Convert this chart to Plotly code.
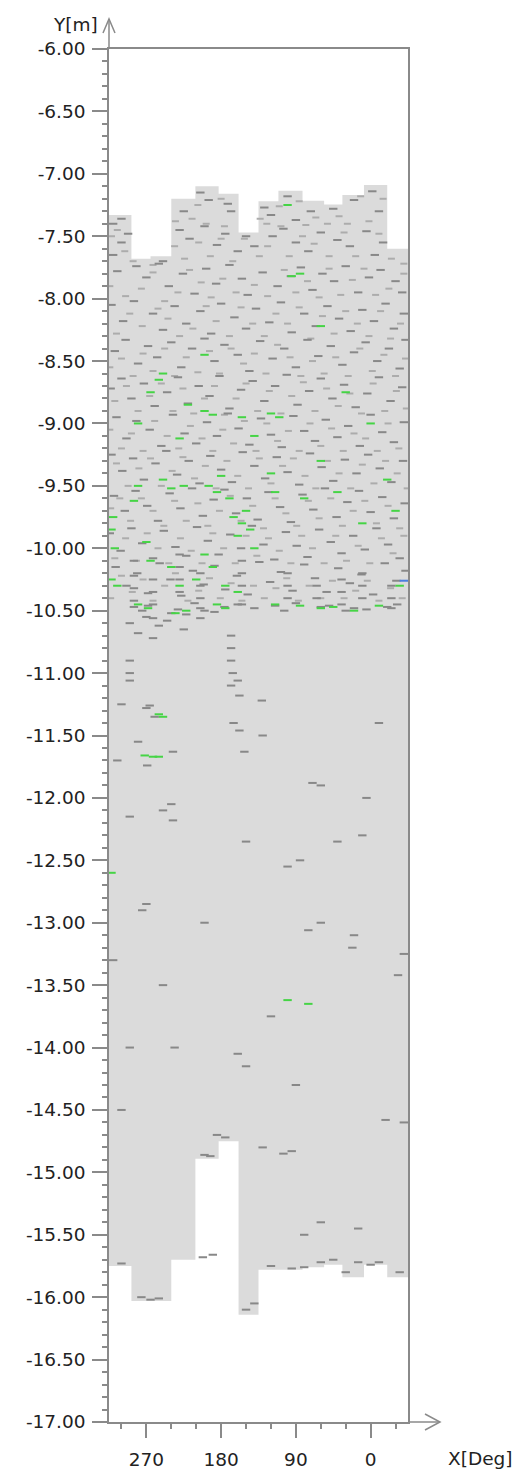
import plotly.graph_objects as go

# ---------------- data ----------------
# column edges in degrees (left -> right on the reversed axis)
col_edges = [315, 288, 265, 240, 211, 183, 159, 135, 111, 82, 56, 34, 8, -20, -45]
col_top = [-7.33, -7.68, -7.66, -7.20, -7.10, -7.16, -7.47, -7.22, -7.135, -7.215, -7.245, -7.17, -7.09, -7.60]
col_bottom = [-15.75, -16.03, -16.03, -15.70, -14.89, -14.75, -16.14, -15.78, -15.78, -15.76, -15.74, -15.84, -15.74, -15.84]

# dark grey defect marks (deg, depth) in the dense zone
dense_gray = [
    (205,-7.15),(195,-7.21),(172,-7.24),(168,-7.30),(128,-7.27),(120,-7.33),(100,-7.18),(72,-7.30),(45,-7.28),
    (20,-7.21),(-2,-7.14),(-10,-7.30),(310,-7.40),(300,-7.36),(225,-7.30),(150,-7.50),(90,-7.37),
    (300,-7.55),(292,-7.48),(230,-7.45),(218,-7.52),(200,-7.42),(185,-7.57),(175,-7.48),(160,-7.62),(140,-7.58),
    (118,-7.50),(105,-7.44),(90,-7.55),(75,-7.62),(60,-7.47),(40,-7.53),(25,-7.58),(5,-7.46),(-15,-7.55),
    (-5,-7.65),(310,-7.65),(250,-7.70),
    (305,-7.78),(282,-7.74),(270,-7.83),(255,-7.72),(243,-7.90),(226,-7.80),(212,-7.96),(198,-7.76),(186,-7.88),
    (170,-7.73),(155,-7.84),(148,-7.97),(130,-7.79),(112,-7.90),(96,-7.82),(84,-7.75),(70,-7.93),(58,-7.80),
    (44,-7.86),(30,-7.74),(15,-7.95),(2,-7.83),(-12,-7.77),(-30,-7.86),(-38,-7.95),
    (312,-8.05),(298,-8.18),(285,-8.02),(262,-8.12),(250,-8.25),(236,-8.06),(222,-8.20),(205,-8.10),(192,-8.28),
    (180,-8.04),(164,-8.15),(150,-8.24),(138,-8.08),(122,-8.19),(108,-8.03),(95,-8.27),(80,-8.12),(66,-8.22),
    (52,-8.06),(38,-8.16),(24,-8.26),(10,-8.09),(-4,-8.18),(-18,-8.04),(-28,-8.24),(-40,-8.12),
    (308,-8.42),(295,-8.33),(280,-8.52),(268,-8.38),(257,-8.47),(240,-8.35),(228,-8.55),(215,-8.40),(200,-8.32),
    (188,-8.50),(176,-8.37),(160,-8.45),(146,-8.58),(133,-8.34),(118,-8.48),(104,-8.40),(90,-8.55),(76,-8.33),
    (63,-8.46),(48,-8.38),(34,-8.53),(20,-8.43),(6,-8.35),(-8,-8.50),(-22,-8.40),(-35,-8.56),(-42,-8.33),
    (313,-8.72),(300,-8.64),(288,-8.80),(273,-8.68),(260,-8.86),(245,-8.75),(232,-8.63),(220,-8.84),(207,-8.70),
    (194,-8.78),(182,-8.62),(170,-8.88),(156,-8.73),(142,-8.66),(128,-8.82),(115,-8.70),(101,-8.61),(88,-8.85),
    (74,-8.74),(60,-8.64),(46,-8.80),(32,-8.69),(18,-8.87),(4,-8.76),(-10,-8.63),(-24,-8.82),(-38,-8.71),
    (306,-8.95),(294,-9.12),(282,-8.98),(266,-9.05),(252,-9.18),(238,-8.93),(224,-9.08),(210,-9.16),(197,-8.99),
    (185,-9.10),(172,-8.92),(159,-9.04),(146,-9.17),(132,-8.96),(120,-9.09),(107,-9.19),(93,-8.94),(80,-9.06),
    (67,-9.14),(54,-8.97),(40,-9.11),(27,-9.02),(13,-9.18),(0,-8.93),(-14,-9.07),(-28,-9.15),(-40,-8.99),
    (312,-9.25),(299,-9.38),(286,-9.28),(273,-9.45),(259,-9.32),(246,-9.22),(233,-9.41),(219,-9.30),(206,-9.48),
    (193,-9.26),(180,-9.37),(167,-9.47),(154,-9.23),(140,-9.34),(127,-9.44),(113,-9.27),(100,-9.39),(86,-9.49),
    (73,-9.24),(59,-9.35),(45,-9.46),(31,-9.29),(17,-9.40),(3,-9.25),(-11,-9.36),(-25,-9.47),(-39,-9.30),
    (309,-9.58),(296,-9.70),(283,-9.54),(269,-9.66),(256,-9.78),(242,-9.56),(229,-9.68),(215,-9.52),(202,-9.74),
    (189,-9.61),(176,-9.53),(162,-9.72),(149,-9.60),(136,-9.77),(123,-9.55),(109,-9.67),(96,-9.79),(82,-9.57),
    (69,-9.69),(55,-9.52),(41,-9.75),(28,-9.63),(14,-9.54),(0,-9.71),(-14,-9.59),(-28,-9.76),(-41,-9.64),
    (314,-9.88),(301,-10.02),(288,-9.84),(275,-9.96),(262,-10.08),(249,-9.86),(235,-9.99),(222,-10.06),(209,-9.83),
    (196,-9.94),(183,-10.05),(169,-9.89),(156,-10.00),(143,-9.82),(129,-9.97),(116,-10.09),(102,-9.87),(89,-9.98),
    (76,-10.07),(62,-9.85),(48,-9.95),(35,-10.04),(21,-9.90),(7,-10.01),(-7,-9.84),(-21,-9.97),(-35,-10.08),
    (307,-10.15),(294,-10.30),(281,-10.20),(268,-10.36),(254,-10.12),(241,-10.25),(228,-10.38),(214,-10.18),(201,-10.29),
    (188,-10.14),(175,-10.33),(161,-10.22),(148,-10.37),(134,-10.11),(121,-10.27),(108,-10.19),(94,-10.34),(80,-10.13),
    (67,-10.24),(53,-10.35),(39,-10.16),(25,-10.28),(11,-10.21),(-3,-10.37),(-17,-10.12),(-31,-10.26),(-42,-10.18),
    (285,-10.47),(275,-10.50),(268,-10.46),(240,-10.52),(232,-10.49),(222,-10.53),(212,-10.44),(200,-10.50),(188,-10.51),
    (176,-10.47),(160,-10.45),(140,-10.48),(115,-10.46),(104,-10.50),(90,-10.44),(60,-10.47),(50,-10.46),(30,-10.50),
    (20,-10.48),(5,-10.49),(-20,-10.47),(-32,-10.45),
    (290,-10.60),(280,-10.68),(270,-10.55),(255,-10.62),(262,-10.72),(245,-10.58),(225,-10.65),(205,-10.56),
    # vertical streaks in the lower dense zone
    (285,-10.10),(285,-10.22),(285,-10.32),(285,-10.42),(262,-10.25),(262,-10.35),(262,-10.45),(262,-10.56),
    (230,-10.05),(230,-10.15),(230,-10.25),(230,-10.35),(205,-10.20),(205,-10.30),(205,-10.40),(205,-10.48),
    (155,-10.10),(155,-10.20),(155,-10.30),(155,-10.45),(100,-10.20),(100,-10.30),(100,-10.40),(65,-10.30),
    (65,-10.40),(35,-10.25),(35,-10.35),(35,-10.45),(10,-10.20),(10,-10.30),(10,-10.40),(-25,-10.30),(-25,-10.40),
    (-25,-10.48),(168,-10.70),(168,-10.80),(168,-10.90),(166,-11.00),(168,-11.10),(290,-10.90),(290,-11.00),
]

# lighter grey marks in the dense zone
dense_light = [
    (208,-7.25),(198,-7.40),(180,-7.20),(176,-7.42),(125,-7.40),(110,-7.26),(108,-7.42),(86,-7.22),(78,-7.41),
    (66,-7.35),(52,-7.40),(38,-7.34),(28,-7.40),(12,-7.18),(2,-7.38),(-15,-7.20),(305,-7.45),(133,-7.36),(215,-7.36),
    (235,-7.38),
    (312,-7.50),(296,-7.62),(286,-7.70),(262,-7.73),(236,-7.58),(224,-7.68),(207,-7.55),(193,-7.66),(180,-7.52),
    (166,-7.70),(152,-7.52),(134,-7.66),(124,-7.58),(98,-7.66),(82,-7.50),(68,-7.56),(50,-7.66),(32,-7.47),
    (18,-7.66),(-10,-7.48),(-25,-7.68),(-40,-7.72),
    (314,-7.90),(295,-7.98),(276,-7.92),(262,-7.79),(248,-8.02),(232,-7.95),(218,-7.77),(204,-7.87),(192,-7.99),
    (178,-7.84),(162,-7.95),(140,-7.89),(124,-7.98),(104,-7.77),(90,-7.95),(76,-7.86),(62,-7.99),(50,-7.76),
    (36,-7.97),(22,-7.85),(8,-7.76),(-6,-7.97),(-22,-7.92),(-40,-7.80),
    (306,-8.28),(290,-8.12),(275,-8.22),(256,-8.08),(244,-8.16),(230,-8.30),(214,-8.24),(198,-8.06),(186,-8.18),
    (170,-8.30),(156,-8.07),(142,-8.20),(128,-8.30),(114,-8.12),(100,-8.20),(86,-8.07),(72,-8.32),(58,-8.14),
    (44,-8.28),(30,-8.10),(16,-8.20),(2,-8.30),(-12,-8.10),(-24,-8.32),(-36,-8.20),
    (314,-8.55),(300,-8.48),(286,-8.62),(274,-8.44),(262,-8.58),(248,-8.40),(236,-8.62),(222,-8.47),(208,-8.59),
    (194,-8.42),(182,-8.60),(168,-8.40),(153,-8.52),(140,-8.44),(126,-8.60),(112,-8.37),(97,-8.47),(84,-8.62),
    (70,-8.50),(56,-8.60),(42,-8.47),(27,-8.62),(13,-8.40),(-2,-8.58),(-16,-8.45),(-30,-8.62),(-42,-8.48),
    (308,-8.82),(294,-8.70),(280,-8.90),(266,-8.78),(252,-8.68),(238,-8.90),(226,-8.72),(213,-8.92),(200,-8.80),
    (188,-8.70),(176,-8.93),(162,-8.80),(150,-8.68),(136,-8.90),(122,-8.74),(108,-8.92),(95,-8.78),(81,-8.67),
    (67,-8.90),(53,-8.72),(39,-8.86),(25,-8.76),(11,-8.92),(-3,-8.68),(-17,-8.90),(-31,-8.74),(-43,-8.88),
    (314,-9.05),(300,-9.20),(288,-9.08),(274,-9.22),(260,-8.98),(245,-9.10),(231,-9.20),(217,-9.02),(203,-9.12),
    (190,-9.22),(178,-9.05),(165,-9.16),(152,-8.98),(138,-9.22),(125,-9.00),(112,-9.14),(99,-9.06),(86,-9.22),
    (73,-9.00),(60,-9.18),(47,-9.04),(33,-9.22),(20,-9.08),(6,-9.12),(-8,-9.22),(-21,-9.00),(-34,-9.20),
    (306,-9.32),(292,-9.50),(279,-9.36),(265,-9.28),(252,-9.50),(239,-9.38),(226,-9.27),(212,-9.44),(199,-9.34),
    (186,-9.52),(173,-9.30),(160,-9.42),(147,-9.52),(134,-9.28),(120,-9.48),(106,-9.34),(93,-9.28),(79,-9.42),
    (66,-9.52),(52,-9.30),(38,-9.40),(24,-9.52),(10,-9.33),(-4,-9.48),(-18,-9.30),(-32,-9.40),(-44,-9.52),
    (313,-9.68),(302,-9.60),(289,-9.78),(276,-9.60),(262,-9.70),(249,-9.82),(236,-9.62),(222,-9.78),(208,-9.64),
    (196,-9.82),(182,-9.70),(169,-9.58),(156,-9.78),(142,-9.66),(129,-9.84),(115,-9.60),(102,-9.72),(89,-9.82),
    (75,-9.62),(62,-9.76),(48,-9.60),(34,-9.82),(21,-9.70),(7,-9.62),(-7,-9.80),(-21,-9.66),(-35,-9.84),
    (308,-10.08),(295,-9.92),(282,-10.10),(269,-9.88),(256,-10.00),(243,-10.12),(229,-9.92),(216,-10.02),(203,-10.12),
    (190,-9.88),(177,-10.00),(163,-10.12),(150,-9.90),(137,-10.06),(123,-9.92),(110,-10.02),(96,-10.12),(83,-9.90),
    (70,-10.00),(56,-10.12),(42,-9.90),(29,-10.10),(15,-9.98),(1,-10.12),(-13,-9.92),(-27,-10.04),(-40,-9.90),
    (313,-10.40),(300,-10.22),(287,-10.35),(274,-10.25),(262,-10.42),(248,-10.30),(235,-10.20),(220,-10.42),(207,-10.34),
    (194,-10.24),(181,-10.40),(168,-10.28),(155,-10.42),(141,-10.30),(128,-10.40),(114,-10.32),(101,-10.24),(87,-10.42),
    (74,-10.30),(60,-10.40),(46,-10.26),(32,-10.40),(18,-10.34),(4,-10.26),(-10,-10.42),(-24,-10.32),(-38,-10.40),
]

# sparse grey marks below the dense zone
lower_gray = [
    (290,-11.06),(269,-11.74),(266,-11.26),(238,-11.63),(238,-12.18),(236,-14.00),(160,-11.06),(158,-11.18),
    (158,-11.46),(152,-11.63),(131,-11.22),(85,-12.50),(75,-13.06),(-18,-14.58),(-33,-13.42),
    (300,-15.73),(276,-16.00),(255,-16.01),(265,-16.02),(202,-15.68),(190,-15.66),(150,-16.10),(140,-16.05),
    (120,-15.75),(95,-15.77),(80,-15.76),(60,-15.72),(45,-15.70),(30,-15.80),(15,-15.72),(0,-15.74),(-10,-15.72),
    (-35,-15.80),(80,-15.50),(60,-15.40),(15,-15.45),(200,-14.86),(193,-14.87),(185,-14.70),(175,-14.72),
    (160,-14.05),(150,-14.15),(130,-14.80),(105,-14.85),(95,-14.83),(90,-14.30),(60,-13.00),(270,-12.85),
    (275,-12.90),(250,-13.50),(290,-14.00),(300,-14.50),(310,-13.30),(200,-13.00),(120,-13.75),(20,-13.10),
    (22,-13.20),(-40,-13.25),(-40,-14.60),(150,-12.35),(165,-11.40),(130,-11.50),(60,-11.90),(70,-11.88),
    (5,-12.00),(-10,-11.40),(10,-12.30),(40,-12.35),(100,-12.55),(240,-12.05),(250,-12.10),(290,-12.15),
    (300,-11.25),(280,-11.55),(260,-11.35),(270,-11.28),(305,-11.70),
]

# green marks
green_marks = [
    (100,-7.25),(95,-7.82),(85,-7.80),(60,-8.22),(255,-8.65),(250,-8.60),(220,-8.85),(200,-8.90),(190,-8.93),
    (230,-9.12),(155,-8.95),(140,-9.10),(120,-8.92),(250,-9.45),(240,-9.52),(225,-9.50),(195,-9.50),(185,-9.55),
    (180,-9.42),(170,-9.60),(165,-9.75),(155,-9.80),(150,-9.70),(145,-9.85),(160,-9.90),(140,-10.00),(310,-9.75),
    (312,-9.85),(308,-10.00),(312,-10.25),(305,-10.30),(280,-9.50),(285,-9.62),(270,-9.95),(265,-10.10),(240,-10.15),
    (230,-10.30),(200,-10.05),(190,-10.15),(210,-10.25),(175,-10.30),(160,-10.35),(120,-9.40),(115,-9.55),(80,-9.60),
    (60,-9.30),(40,-9.55),(10,-9.80),(-20,-9.45),(-30,-9.70),(-35,-10.30),(280,-10.45),(268,-10.48),
    (235,-10.52),(222,-10.50),(185,-10.45),(175,-10.48),(115,-10.45),(85,-10.46),(60,-10.48),(45,-10.47),(20,-10.50),
    (-10,-10.46),(280,-9.00),(265,-8.75),(200,-8.45),(110,-8.95),(0,-9.00),(30,-8.75),
    (272,-11.66),(262,-11.67),(255,-11.67),(255,-11.33),(250,-11.35),(312,-12.60),(100,-13.62),(75,-13.65),
]
blue_marks = [(-40,-10.26)]

x_ticks = [270, 180, 90, 0]
x_tick_text = ["270", "180", "90", "0"]
y_ticks = [-6.0, -6.5, -7.0, -7.5, -8.0, -8.5, -9.0, -9.5, -10.0, -10.5, -11.0, -11.5,
           -12.0, -12.5, -13.0, -13.5, -14.0, -14.5, -15.0, -15.5, -16.0, -16.5, -17.0]
y_tick_text = [f"{v:.2f}" for v in y_ticks]

# ---------------- figure ----------------
# stepped outline of the scanned area, built from the column data
poly_x, poly_y = [], []
for i in range(len(col_top)):
    poly_x += [col_edges[i], col_edges[i + 1]]
    poly_y += [col_top[i], col_top[i]]
for i in reversed(range(len(col_bottom))):
    poly_x += [col_edges[i + 1], col_edges[i]]
    poly_y += [col_bottom[i], col_bottom[i]]

fig = go.Figure()
fig.add_trace(go.Scatter(x=poly_x, y=poly_y, mode="lines", fill="toself", fillcolor="#dbdbdb",
                         line=dict(width=0, color="#dbdbdb"), hoverinfo="skip"))


def marks(pairs, color, size=6, lw=2):
    return go.Scatter(x=[p[0] for p in pairs], y=[p[1] for p in pairs], mode="markers",
                      marker=dict(symbol="line-ew", size=size, line=dict(color=color, width=lw)),
                      hoverinfo="skip")


fig.add_trace(marks(dense_light, "#acacac", size=5))
fig.add_trace(marks(dense_gray, "#888888"))
fig.add_trace(marks(lower_gray, "#888888"))
fig.add_trace(marks(green_marks, "#45d445"))
fig.add_trace(marks(blue_marks, "#4a7ee0"))

axis_col = "#8a8a8a"
font = "'DejaVu Sans', sans-serif"

fig.update_layout(
    width=515, height=1473,
    margin=dict(l=109, r=107, t=49, b=51, autoexpand=False),
    paper_bgcolor="white", plot_bgcolor="white",
    showlegend=False,
    font=dict(family=font, size=18.5, color="#222222"),
    xaxis=dict(range=[315, -45], tickvals=x_ticks, ticktext=x_tick_text, automargin=False,
               ticks="outside", ticklen=14, tickwidth=1.5, tickcolor=axis_col, ticklabelstandoff=6,
               showline=True, linecolor=axis_col, linewidth=1.5, mirror=True,
               showgrid=False, zeroline=False,
               minor=dict(dtick=30, tick0=0, ticks="outside", ticklen=5, tickwidth=1.5, tickcolor=axis_col)),
    yaxis=dict(range=[-17, -6], tickvals=y_ticks, ticktext=y_tick_text, automargin=False,
               ticks="outside", ticklen=15, tickwidth=1.5, tickcolor=axis_col, ticklabelstandoff=3,
               showline=True, linecolor=axis_col, linewidth=1.5, mirror=True,
               showgrid=False, zeroline=False,
               minor=dict(dtick=0.1, tick0=-6, ticks="outside", ticklen=5, tickwidth=1.5, tickcolor=axis_col)),
)

# axis arrow extensions (decorations, in paper coordinates)
pw, ph = 299.0, 1373.0
yt = 1 + 30 / ph
fig.add_shape(type="line", xref="paper", yref="paper", x0=0, x1=0, y0=1, y1=yt,
              line=dict(color=axis_col, width=1.5))
fig.add_shape(type="path", xref="paper", yref="paper",
              path=f"M {-6/pw} {yt-14/ph} L 0 {yt} L {6/pw} {yt-14/ph}",
              line=dict(color=axis_col, width=1.5))
xt = 1 + 32 / pw
fig.add_shape(type="line", xref="paper", yref="paper", x0=1, x1=xt, y0=0, y1=0,
              line=dict(color=axis_col, width=1.5))
fig.add_shape(type="path", xref="paper", yref="paper",
              path=f"M {xt-15/pw} {8/ph} L {xt} 0 L {xt-15/pw} {-8/ph}",
              line=dict(color=axis_col, width=1.5))

fig.add_annotation(text="Y[m]", xref="paper", yref="paper", x=-9/pw, y=1 + 24/ph,
                   xanchor="right", yanchor="middle", showarrow=False, font=dict(size=18.5, color="#222222"))
fig.add_annotation(text="X[Deg]", xref="paper", yref="paper", x=1 + 38/pw, y=-36/ph,
                   xanchor="left", yanchor="middle", showarrow=False, font=dict(size=18.5, color="#222222"))

fig.write_html("out.html")
